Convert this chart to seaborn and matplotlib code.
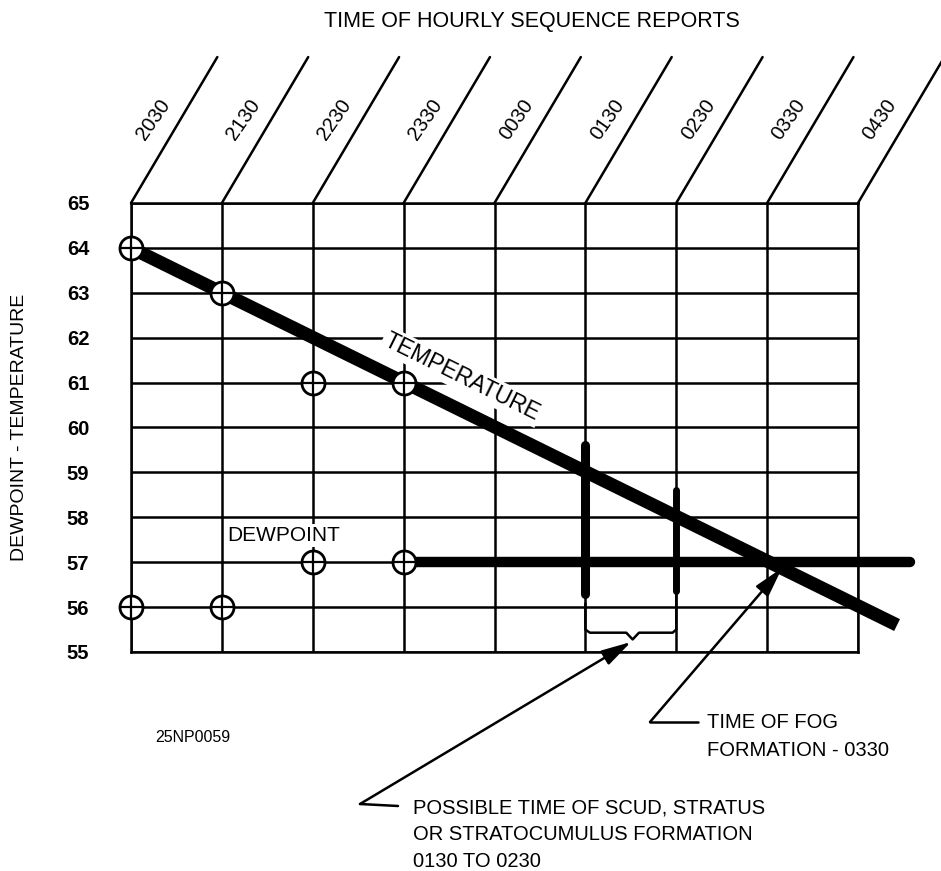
import matplotlib
matplotlib.use("Agg")
import matplotlib.pyplot as plt
from matplotlib.lines import Line2D
import seaborn as sns

# hourly sequence report times (x categories)
times = ["2030", "2130", "2230", "2330", "0030", "0130", "0230", "0330", "0430"]
y_ticks = list(range(55, 66))

# plotted observations
obs_hours = [0, 1, 2, 3]
temp_obs = [64, 63, 61, 61]
dew_obs = [56, 56, 57, 57]

# drawn trend lines
temp_trend_x = [0, 8.43]
temp_trend_y = [64, 55.6]
dew_trend_x = [3, 8.57]
dew_trend_y = [57, 57]

# vertical marks for possible scud / stratus window
window_x = [5, 6]
window_top = [59.6, 58.6]
window_bottom = [56.3, 56.35]

W, H = 941, 871


def fig_xy(x, y):
    # pixel position -> figure fraction
    return x / W, 1 - y / H


sns.set_theme(style="white", rc={"text.color": "black",
                                 "axes.labelcolor": "black",
                                 "xtick.color": "black",
                                 "ytick.color": "black"})
plt.rcParams["font.family"] = ["Liberation Sans", "DejaVu Sans"]

fig = plt.figure(figsize=(W / 100, H / 100), dpi=100)
ax = fig.add_axes([131 / W, 1 - 652 / H, 727 / W, 449 / H])
ax.set_xlim(0, 8)
ax.set_ylim(55, 65)

# grid
ax.set_xticks(range(len(times)))
ax.set_xticklabels([])
ax.set_yticks(y_ticks)
ax.set_yticklabels([str(v) for v in y_ticks], fontsize=14.5, fontweight="bold")
ax.tick_params(axis="both", length=0)
ax.tick_params(axis="y", pad=30)
ax.grid(True, color="black", lw=1.8)
ax.set_axisbelow(True)
for s in ax.spines.values():
    s.set_color("black")
    s.set_linewidth(1.8)

ax.set_ylabel("DEWPOINT - TEMPERATURE", fontsize=14, va="center")
ax.yaxis.set_label_coords(-0.153, 0.5)

# slanted time header
for i, t in enumerate(times):
    ax.plot([i, i + 0.95], [65, 68.25], color="black", lw=1.8, clip_on=False)
    ax.text(i + 0.24, 66.85, t, fontsize=14.5, rotation=55, ha="center",
            va="center", rotation_mode="anchor", clip_on=False)
fig.text(*fig_xy(532, 22), "TIME OF HOURLY SEQUENCE REPORTS", fontsize=15.5,
         ha="center", va="center")

# trend lines
sns.lineplot(x=temp_trend_x, y=temp_trend_y, color="black", lw=9.5, ax=ax,
             clip_on=False, solid_capstyle="butt", zorder=4)
sns.lineplot(x=dew_trend_x, y=dew_trend_y, color="black", lw=7.5, ax=ax,
             clip_on=False, solid_capstyle="round", zorder=4)

# observation circles with crosshair
for vals in (temp_obs, dew_obs):
    sns.scatterplot(x=obs_hours, y=vals, s=275, facecolor="white",
                    edgecolor="black", linewidth=2, ax=ax, zorder=5)
    sns.scatterplot(x=obs_hours, y=vals, s=275, marker="+", color="black",
                    linewidth=1.6, ax=ax, zorder=6)
for c in ax.collections:
    c.set_clip_on(False)

# labels on the chart
ax.text(3.64, 61.13, "TEMPERATURE", fontsize=16.5, rotation=-45,
        transform_rotates_text=True, rotation_mode="anchor", ha="center",
        va="center", zorder=3,
        bbox=dict(boxstyle="square,pad=0.1", fc="white", ec="none"))
ax.text(1.68, 57.6, "DEWPOINT", fontsize=15, ha="center", va="center", zorder=3,
        bbox=dict(boxstyle="square,pad=0.1", fc="white", ec="none"))

# window bars and brace
ax.vlines(window_x[0], window_bottom[0], window_top[0], color="black", lw=6.5,
          capstyle="round", zorder=4)
ax.vlines(window_x[1], window_bottom[1], window_top[1], color="black", lw=5,
          capstyle="round", zorder=4)
xl, xr = window_x
xm = (xl + xr) / 2 + 0.02
brace_x = [xl, xl, xl + 0.05, xm - 0.07, xm, xm + 0.07, xr - 0.04, xr, xr]
brace_y = [56.08, 55.5, 55.43, 55.43, 55.28, 55.43, 55.43, 55.5, window_bottom[1]]
ax.plot(brace_x, brace_y, color="black", lw=1.8, zorder=4)

# leader arrows
arrow = dict(arrowstyle="-|>,head_length=1.3,head_width=0.35", color="black",
             lw=1.8, shrinkA=0, shrinkB=0, mutation_scale=14)
ax.annotate("", xy=fig_xy(631, 642), xycoords="figure fraction",
            xytext=fig_xy(360, 804), textcoords="figure fraction",
            arrowprops=arrow, annotation_clip=False)
ax.annotate("", xy=fig_xy(782, 568), xycoords="figure fraction",
            xytext=fig_xy(650, 722), textcoords="figure fraction",
            arrowprops=arrow, annotation_clip=False)
for (x0, y0), (x1, y1) in [((360, 804), (398, 806)), ((650, 722), (698, 722))]:
    a, b = fig_xy(x0, y0)
    c, d = fig_xy(x1, y1)
    fig.add_artist(Line2D([a, c], [b, d], color="black", lw=1.8))

for k, line in enumerate(["TIME OF FOG", "FORMATION - 0330"]):
    fig.text(*fig_xy(707, 723 + 27 * k), line, fontsize=14.5, va="center")
for k, line in enumerate(["POSSIBLE TIME OF SCUD, STRATUS",
                          "OR STRATOCUMULUS FORMATION", "0130 TO 0230"]):
    fig.text(*fig_xy(413, 808 + 26.5 * k), line, fontsize=14.5, va="center")
fig.text(*fig_xy(155, 737), "25NP0059", fontsize=11.5, va="center")

fig.savefig("out.png", dpi=100)
plt.close(fig)
